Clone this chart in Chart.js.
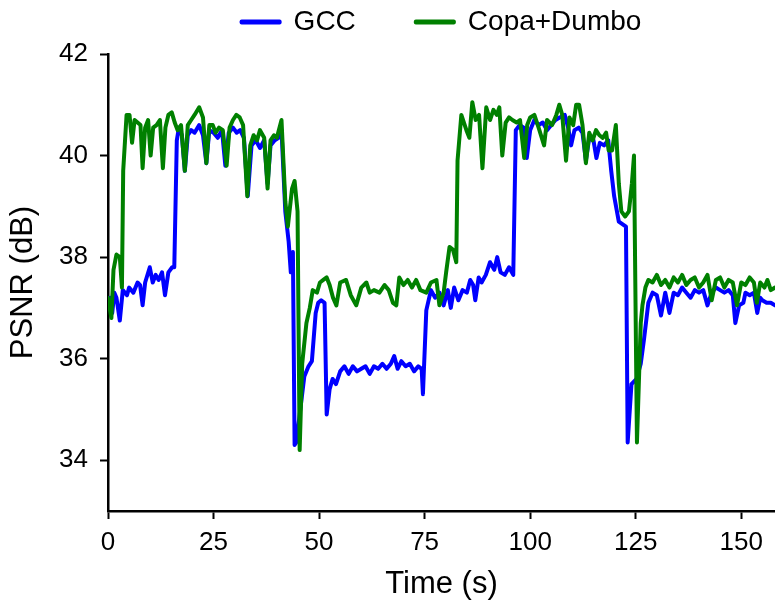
<!DOCTYPE html>
<html>
<head>
  <style>
    body { margin: 0; background: #fff; }
    canvas { display: block; }
  </style>
</head>
<body>
  <canvas id="psnrChart" width="775" height="604"></canvas>

  <script src="https://cdn.jsdelivr.net/npm/chart.js"></script>
  <script>
    // GCC samples (time in s, PSNR in dB)
    const gccTime = [
      0, 0.5, 1, 1.5, 2, 2.8, 3.5, 4.5, 5, 6,
      7, 7.6, 8.2, 8.8, 9.9, 10.6, 11.3, 12, 12.8, 13.5,
      14.3, 15.2, 15.7, 16.3, 16.8, 17.5, 18.2, 18.9, 19.7, 20.5,
      21.6, 22.5, 23.3, 24, 25, 26, 27, 27.8, 28.6, 29.6,
      30.5, 31.3, 32.2, 33.1, 34, 35, 36, 37, 37.8, 38.5,
      39.5, 40.4, 41.1, 42, 42.8, 43.3, 43.8, 44.2, 44.6, 46.5,
      47.5, 48.3, 49.2, 49.8, 50.5, 51.3, 51.8, 52.5, 53.2, 54,
      55, 56, 57, 58, 59, 60, 61, 62, 63, 64,
      65, 66, 67, 67.8, 68.6, 69.5, 70.5, 71.5, 72.5, 73.5,
      74.3, 74.6, 75.4, 76.5, 77.5, 78.5, 79.5, 80.5, 81.2, 82,
      83, 84, 85, 85.8, 86.5, 87, 87.8, 88.5, 89.5, 90.5,
      91.5, 92.2, 93, 94, 95, 96, 96.6, 97.5, 98.5, 99.2,
      100, 101, 102, 103, 104, 105, 106, 107, 108.2, 109,
      109.7, 110.5, 111.5, 112.4, 113.2, 114, 115, 115.7, 116.5, 117.5,
      118.5, 119.2, 119.9, 121, 122.7, 123.1, 124, 125.2, 126.2, 127,
      128, 129, 130, 131, 132, 133, 134, 135, 136, 137,
      138, 139, 140, 141, 142, 143, 144, 145, 146, 147,
      148, 148.6, 149.5, 150.5, 151, 152, 153, 153.8, 154.5, 155,
      156, 157, 158
    ];
    const gccPsnr = [
      37.0, 37.2, 36.9, 37.3, 37.2, 36.75, 37.35, 37.25, 37.4, 37.3,
      37.5, 37.45, 37.05, 37.5, 37.8, 37.5, 37.65, 37.55, 37.7, 37.25,
      37.7, 37.8, 37.8, 40.3, 40.55, 40.4, 39.7, 40.4, 40.5, 40.45,
      40.6, 40.4, 39.85, 40.5, 40.45, 40.35, 40.5, 39.8, 40.45, 40.55,
      40.45, 40.5, 40.35, 39.2, 40.2, 40.3, 40.15, 40.3, 39.45, 40.2,
      40.3, 40.35, 40.5, 38.9, 38.3, 37.7, 38.1, 34.3, 34.35, 35.65,
      35.85, 35.95, 36.9, 37.1, 37.15, 37.1, 34.9, 35.4, 35.6, 35.5,
      35.75, 35.85, 35.7, 35.85, 35.75, 35.8, 35.85, 35.7, 35.85, 35.8,
      35.9, 35.8, 35.9, 36.05, 35.8, 35.95, 35.85, 35.9, 35.75, 35.85,
      35.8, 35.3, 36.95, 37.35, 37.2, 37.3, 37.05, 37.35, 37.0, 37.4,
      37.15, 37.35, 37.3, 37.55, 37.45, 37.15, 37.6, 37.5, 37.65, 37.9,
      37.75, 38.0, 37.7, 37.65, 37.8, 37.65, 40.5, 40.6, 40.55, 39.95,
      40.5, 40.7, 40.6, 40.65, 40.5, 40.6, 40.7, 40.75, 40.8, 40.55,
      40.2, 40.5, 40.55, 40.45, 39.9, 40.35, 40.3, 39.95, 40.25, 40.2,
      40.3, 39.7, 39.2, 38.7, 38.6, 34.35, 35.5, 35.6, 35.9, 36.4,
      37.1, 37.3, 37.25, 36.85, 37.3, 36.9, 37.3, 37.25, 37.4, 37.3,
      37.2, 37.35, 37.3, 37.35, 37.05, 37.3, 37.4, 37.35, 37.3, 37.35,
      37.25, 36.7, 37.05, 37.1, 37.3, 37.25, 37.3, 36.9, 37.2, 37.15,
      37.1, 37.1, 37.05
    ];

    // Copa+Dumbo samples
    const copaTime = [
      0, 0.8, 1.3, 2, 2.8, 3.3, 3.6, 4.4, 5.1, 5.7,
      6.3, 7, 7.7, 8.2, 8.8, 9.5, 10.1, 10.7, 11.5, 12.3,
      13, 13.6, 14.3, 15.1, 15.8, 16.5, 17.3, 18.2, 18.9, 19.7,
      20.5, 21.6, 22.5, 23.3, 24, 24.8, 25.5, 26.3, 27.2, 28.1,
      28.8, 29.6, 30.4, 31.2, 32, 33, 33.7, 34.5, 35.3, 36,
      37, 37.8, 38.5, 39.3, 40, 41.1, 42, 42.6, 43.6, 44.2,
      44.9, 45.4, 46, 47, 47.8, 48.5, 49.5, 50.2, 51, 51.8,
      52.5, 53.3, 54.1, 55, 56.4, 57.5, 58.8, 60, 61.2, 62,
      63, 64.3, 65.5, 66.5, 67.5, 68.3, 69, 70, 71, 72,
      73, 74, 75.4, 76.5, 77.8, 78.5, 79.5, 80.1, 80.9, 81.7,
      82.5, 82.8, 83.7, 84.9, 85.6, 86.3, 87.1, 87.9, 88.7, 89.6,
      90.5, 91.3, 92.1, 92.7, 93.4, 94.2, 95, 95.8, 96.8, 97.6,
      98.6, 99.3, 100, 101, 102, 103.3, 104, 105.2, 106.2, 106.9,
      107.6, 108.5, 109.3, 110.2, 110.9, 111.6, 112.4, 113.2, 114, 114.8,
      115.6, 116.4, 117.2, 118, 118.6, 119.4, 120.3, 121, 121.6, 122.5,
      123.4, 124.1, 124.6, 125.3, 126.2, 126.6, 127.3, 128, 129, 130,
      131, 132, 133, 134, 135, 136, 137, 138, 139, 140,
      141, 142, 143, 144, 145, 146, 147, 148, 149, 150,
      151, 152, 153, 153.7, 154.5, 155.5, 156.2, 157, 158
    ];
    const copaPsnr = [
      37.2, 36.8, 37.75, 38.05, 38.0, 37.4, 39.7, 40.8, 40.8, 40.25,
      40.7, 40.65, 40.6, 39.75, 40.55, 40.7, 40.0, 40.55, 40.6, 40.7,
      39.75, 40.55, 40.8, 40.85, 40.65, 40.5, 40.6, 39.7, 40.6, 40.7,
      40.8, 40.95, 40.75, 39.85, 40.6, 40.6, 40.45, 40.55, 40.5, 39.8,
      40.55, 40.7, 40.8, 40.75, 40.6, 39.2, 40.2, 40.4, 40.3, 40.5,
      40.35, 39.35, 40.3, 40.4, 40.35, 40.7, 39.1, 38.6, 39.35, 39.5,
      38.9, 34.2, 35.9, 36.7, 37.0, 37.35, 37.3, 37.5, 37.55, 37.6,
      37.45, 37.2, 37.05, 37.5, 37.55, 37.25, 37.05, 37.4, 37.5, 37.3,
      37.35, 37.3, 37.45, 37.35, 37.1, 37.05, 37.6, 37.45, 37.55, 37.4,
      37.55, 37.35, 37.3, 37.5, 37.55, 37.05, 37.3, 37.7, 38.2, 38.15,
      37.9, 39.9, 40.8, 40.5, 40.35, 41.05, 40.7, 40.8, 39.75, 40.95,
      40.7, 40.9, 40.8, 40.95, 40.0, 40.65, 40.75, 40.7, 40.65, 40.7,
      39.95, 40.6, 40.75, 40.8, 40.55, 40.2, 40.7, 40.6, 40.8, 41.0,
      40.8, 39.9, 40.75, 40.6, 41.0, 41.0, 40.6, 39.85, 40.45, 40.3,
      40.5, 40.4, 40.35, 40.45, 40.1, 40.1, 40.6, 39.45, 38.9, 38.8,
      38.9, 39.45, 40.0, 34.35, 36.7, 37.05, 37.4, 37.55, 37.5, 37.65,
      37.45, 37.55, 37.4, 37.6, 37.5, 37.65, 37.45, 37.55, 37.6, 37.4,
      37.5, 37.65, 37.15, 37.55, 37.6, 37.4, 37.55, 37.5, 37.05, 37.5,
      37.45, 37.6, 37.5, 37.1, 37.5, 37.4, 37.55, 37.35, 37.4
    ];

    const seriesNames = ['GCC', 'Copa+Dumbo'];
    const seriesColors = ['#0000ff', '#008000'];

    const fontFamily = "'Liberation Sans', Arial, sans-serif";
    Chart.defaults.color = '#000';
    Chart.defaults.font.family = fontFamily;

    function toPoints(xs, ys) {
      return xs.map((x, i) => ({ x: x, y: ys[i] }));
    }

    // legend sits centred over the plot area, high up in its strip
    const legendPlace = {
      id: 'legendPlace',
      afterLayout(chart) {
        const lg = chart.legend;
        lg.left = chart.chartArea.left;
        lg.right = chart.chartArea.right;
        lg.top = -52;
      }
    };

    const axisCommon = {
      type: 'linear',
      border: { display: true, color: '#000', width: 2.5 },
      grid: {
        drawOnChartArea: false,
        drawTicks: true,
        tickLength: 8,
        tickWidth: 2,
        tickColor: '#000'
      }
    };

    new Chart(document.getElementById('psnrChart'), {
      type: 'line',
      data: {
        datasets: [
          {
            label: seriesNames[0],
            data: toPoints(gccTime, gccPsnr),
            borderColor: seriesColors[0],
            backgroundColor: seriesColors[0],
            borderWidth: 4,
            order: 1
          },
          {
            label: seriesNames[1],
            data: toPoints(copaTime, copaPsnr),
            borderColor: seriesColors[1],
            backgroundColor: seriesColors[1],
            borderWidth: 4,
            order: 0
          }
        ]
      },
      options: {
        responsive: false,
        animation: false,
        devicePixelRatio: 1,
        layout: { padding: 0 },
        elements: {
          point: { radius: 0 },
          line: { tension: 0, borderJoinStyle: 'round', borderCapStyle: 'round' }
        },
        scales: {
          x: {
            ...axisCommon,
            position: 'bottom',
            min: 0,
            max: 158,
            afterFit: (s) => { s.height = 93; },
            ticks: {
              stepSize: 25,
              includeBounds: false,
              padding: 8,
              maxRotation: 0,
              font: { size: 26 }
            },
            title: {
              display: true,
              text: 'Time (s)',
              font: { size: 31 },
              padding: { top: 0, bottom: 1 }
            }
          },
          y: {
            ...axisCommon,
            position: 'left',
            min: 33,
            max: 42,
            afterFit: (s) => { s.width = 108; },
            ticks: {
              stepSize: 2,
              includeBounds: false,
              padding: 12,
              font: { size: 26 }
            },
            title: {
              display: true,
              text: 'PSNR (dB)',
              font: { size: 31 },
              padding: { top: 5, bottom: 0 }
            }
          }
        },
        plugins: {
          tooltip: { enabled: false },
          legend: {
            display: true,
            position: 'top',
            maxHeight: 54,
            labels: {
              boxWidth: 38,
              boxHeight: 1,
              padding: 60,
              font: { size: 28 },
              sort: (a, b) => a.datasetIndex - b.datasetIndex
            }
          }
        }
      },
      plugins: [legendPlace]
    });
  </script>
</body>
</html>
